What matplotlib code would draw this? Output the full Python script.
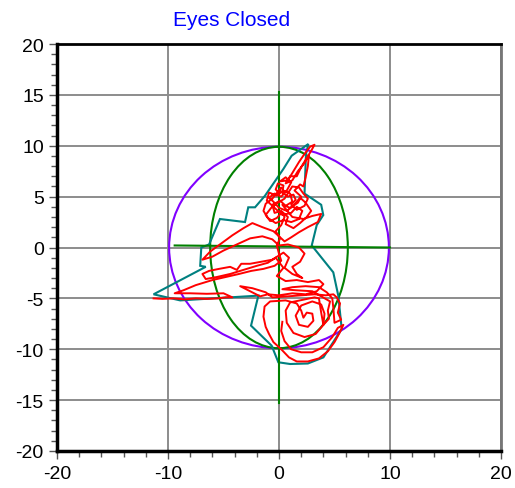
import numpy as np
import matplotlib
matplotlib.use("Agg")
import matplotlib.pyplot as plt
from matplotlib.patches import Ellipse, Circle, Polygon
from matplotlib.ticker import MultipleLocator

plt.rcParams['font.family'] = ['Liberation Sans', 'DejaVu Sans']
plt.rcParams['axes.unicode_minus'] = False

# sway trace (x, y)
sway = [
    (-11.3,-5.0),(-10.5,-5.05),(-9.5,-5.0),(-8.5,-5.1),(-7.5,-5.0),(-6.5,-5.05),(-5.5,-5.0),(-4.8,-4.9),(-4.2,-4.9),
    (-5.0,-4.5),(-6.5,-4.55),(-8.0,-4.5),(-9.4,-4.5),
    (-8.6,-4.2),(-7.5,-3.7),(-6.0,-3.2),(-4.8,-2.9),(-3.6,-2.6),(-2.5,-2.3),(-1.4,-2.1),(-0.4,-1.8),(0.2,-1.3),
    (0.0,-0.6),(-0.2,0.2),(0.1,0.9),(-0.3,1.6),(0.2,2.2),
    (0.5,3.0),(0.2,3.6),(-0.4,3.4),(-0.6,4.2),(0.1,4.6),(0.6,4.1),(1.2,4.5),(1.0,5.3),(0.4,5.6),(-0.2,5.1),
    (-0.9,5.4),(-1.1,4.6),(-0.5,4.0),(0.3,3.2),(1.1,3.4),(1.6,4.0),(2.1,3.6),(1.8,2.8),(1.1,2.5),(0.4,2.7),
    (-0.3,2.4),(-1.0,2.9),(-1.4,3.6),(-1.2,4.3),(-0.6,4.8),(0.2,5.9),
    (0.0,5.4),(-0.3,5.7),(-0.1,6.3),(0.4,6.1),(0.3,5.4),(0.8,5.0),(1.3,5.2),(1.5,4.7),(1.1,4.2),(1.6,3.7),
    (2.3,4.1),(2.6,4.8),(2.2,5.3),(1.8,5.9),(1.2,6.0),(0.9,5.5),(0.5,4.8),(-0.1,4.4),(-0.7,3.9),(-1.2,3.2),
    (-0.8,2.6),(-0.2,2.9),(0.3,3.5),(0.8,3.0),(0.6,2.3),(1.3,1.9),(1.9,2.4),(2.5,3.0),(2.9,3.6),(2.4,4.4),
    (1.9,4.9),(1.3,4.1),(0.7,3.6),(0.0,3.9),(-0.5,4.5),(-0.9,4.9),(-0.4,5.3),(0.2,5.0),(0.7,5.6),(1.1,6.4),
    (0.6,6.9),(0.1,6.5),
    (0.8,6.6),(1.3,7.5),(1.8,8.4),(2.3,9.2),(2.8,9.9),(3.2,10.1),(2.9,9.5),(2.5,8.8),(2.0,7.9),(1.6,7.0),
    (1.0,7.0),(0.6,6.3),(1.2,6.6),(1.7,7.5),(2.3,8.3),(2.7,9.1),(2.6,8.0),(2.4,6.9),(2.2,6.0),
    (1.9,6.2),(1.4,5.6),(2.0,5.0),(1.7,4.4),(1.0,3.9),(0.3,4.2),
    (1.2,3.0),(2.2,2.8),(3.0,3.1),(3.8,3.3),(3.5,2.5),(2.6,2.0),(1.8,1.5),(1.1,1.0),(0.5,0.6),
    (-0.5,1.6),(-1.5,2.0),(-2.4,2.4),(-3.2,1.9),(-4.2,1.2),(-5.2,0.4),(-6.2,-0.4),(-6.9,-1.2),
    (-6.0,-0.9),(-5.0,-0.3),(-3.8,0.3),(-2.6,0.9),(-1.5,1.1),(-0.6,0.8),(0.0,0.2),
    (0.8,0.3),(1.8,0.0),(2.3,-0.6),(1.9,-1.4),(1.2,-1.9),(1.6,-2.6),(2.1,-3.0),(1.2,-2.6),(0.5,-2.0),
    (0.9,-1.0),(0.4,-0.5),
    (-0.6,-1.2),(-1.6,-1.4),(-2.6,-1.6),(-3.4,-1.6),(-3.8,-2.2),(-4.4,-1.9),(-5.4,-2.1),(-6.3,-2.3),(-6.9,-2.6),(-6.6,-3.1),
    (-5.6,-2.9),(-4.4,-2.6),(-3.2,-2.2),(-2.0,-1.8),(-1.0,-1.5),(-0.3,-1.0),
    (0.4,-2.0),(-0.2,-2.8),(0.6,-3.3),(1.6,-3.2),(2.6,-3.4),(3.6,-3.2),(4.0,-3.6),(3.4,-4.3),(2.4,-4.6),
    (1.2,-4.5),(0.0,-4.7),(-1.0,-4.6),(-1.7,-4.8),(-2.6,-4.3),(-3.5,-3.8),(-2.4,-4.0),(-1.2,-4.4),
    (-0.6,-4.9),(0.8,-4.8),(2.0,-4.7),(3.2,-4.6),(4.2,-4.7),(4.9,-4.6),(5.2,-4.9),
    (5.5,-5.5),(5.3,-6.4),(5.6,-7.1),(5.0,-7.4),(4.9,-6.0),(4.8,-5.0),(4.3,-4.4),(3.6,-3.9),(2.4,-3.8),
    (1.2,-3.9),(0.3,-4.1),(1.5,-4.2),(3.0,-4.3),
    (4.6,-5.3),(4.4,-6.2),(4.5,-7.0),(4.0,-7.6),(3.8,-6.4),(3.6,-5.0),
    (3.2,-4.9),(2.3,-5.1),(1.0,-5.4),(0.6,-6.2),(0.7,-7.4),(1.3,-8.4),(2.3,-8.8),(3.3,-8.5),(4.0,-7.6),
    (4.1,-6.5),(3.8,-5.6),(3.0,-5.3),(2.0,-5.7),(1.5,-6.7),(1.8,-7.6),(2.6,-7.8),(3.1,-7.2),(3.0,-6.5),
    (2.5,-6.4),(2.2,-6.9),
    (2.0,-6.2),(1.6,-5.5),(0.6,-5.2),(-0.8,-5.3),(-1.3,-5.8),(-1.4,-6.8),(-1.2,-7.8),(-0.9,-8.5),(-0.5,-9.3),
    (0.2,-10.0),(0.9,-10.8),(1.6,-11.2),(2.6,-11.2),(3.6,-10.9),(4.4,-10.2),(5.0,-9.3),(5.5,-8.3),(5.8,-7.6),
    (5.3,-7.9),(4.8,-8.8),(4.0,-9.8),(3.0,-10.3),(2.0,-10.3),(1.1,-10.0),(0.5,-9.2),(0.2,-8.2),(0.3,-7.3),
]

# outline around the trace
hull = [
    (2.64,10.17),(2.43,9.18),(2.30,5.3),(3.8,4.2),(3.99,3.19),(3.4,2.2),(2.95,0.2),(4.89,-2.44),(5.34,-4.73),
    (5.65,-8.0),(4.0,-10.8),(2.6,-11.4),(1.0,-11.45),(-0.06,-11.28),(-0.66,-9.65),(-2.52,-7.68),(-1.86,-4.73),
    (-8.9,-5.2),(-11.3,-4.6),(-6.6,-1.9),(-7.1,-1.8),(-7.0,0.0),(-6.3,0.3),(-5.32,2.8),(-3.06,2.5),
    (-2.77,3.95),(-2.16,3.95),(-1.26,5.09),(0.39,7.71),(1.14,9.02),
]

circle_r = 9.9
ell_w, ell_h = 12.4, 19.8
ap_axis = [(0, -15.3), (0, 15.3)]
ml_axis = [(-9.4, 0.2), (10.0, 0.0)]

fig = plt.figure(figsize=(5.15, 4.89), dpi=100)
ax = fig.add_axes([57/515, 1-452/489, 444/515, 407/489])

ax.grid(True, color='#8c8c8c', linewidth=1.4)
ax.set_axisbelow(True)

ax.add_patch(Circle((0, 0), circle_r, fill=False, edgecolor='#8000ff', linewidth=1.5))
ax.add_patch(Ellipse((0, 0), ell_w, ell_h, fill=False, edgecolor='#008000', linewidth=1.5))
ax.plot(*zip(*ap_axis), color='#008000', linewidth=1.5)
ax.plot(*zip(*ml_axis), color='#008000', linewidth=1.5)
ax.add_patch(Polygon(hull, closed=True, fill=False, edgecolor='#008080', linewidth=1.5))
sx, sy = zip(*sway)
ax.plot(sx, sy, color='#ff0000', linewidth=1.4)

ax.set_xlim(-20, 20)
ax.set_ylim(-20, 20)
ax.xaxis.set_major_locator(MultipleLocator(10))
ax.xaxis.set_minor_locator(MultipleLocator(2))
ax.yaxis.set_major_locator(MultipleLocator(5))
ax.yaxis.set_minor_locator(MultipleLocator(1))
ax.tick_params(which='major', length=6, width=1, color='#555555', labelsize=14, direction='out')
ax.tick_params(which='minor', length=4, width=1, color='#555555', direction='out')
ax.tick_params(axis='x', pad=4)

for s in ['left', 'bottom']:
    ax.spines[s].set_linewidth(2.5)
    ax.spines[s].set_color('black')
ax.spines['top'].set_linewidth(2)
ax.spines['top'].set_color('black')
ax.spines['right'].set_linewidth(2)
ax.spines['right'].set_color('#777777')

fig.text(232/515, 1-20/489, 'Eyes Closed', color='#0000ff', fontsize=15, ha='center', va='center')

fig.savefig('out.png', dpi=100)
